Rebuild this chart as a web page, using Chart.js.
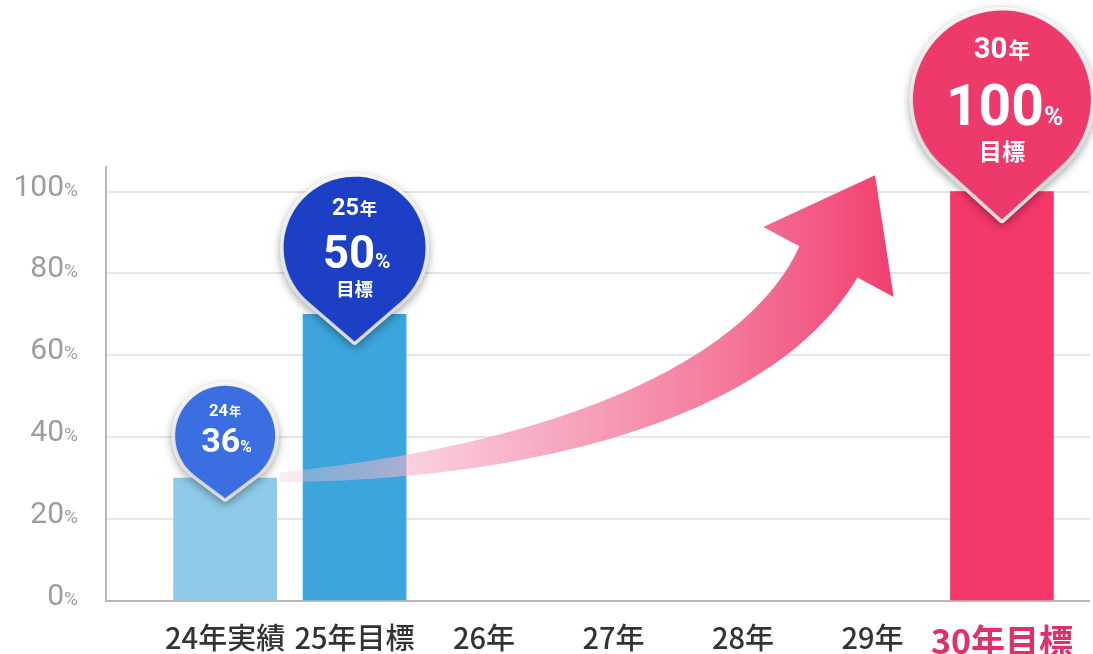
<!DOCTYPE html>
<html lang="ja">
<head>
<meta charset="utf-8">
<script src="https://cdn.jsdelivr.net/npm/chart.js@4.4.1/dist/chart.umd.min.js"></script>
<style>
  html, body { margin: 0; padding: 0; background: #fff; }
  #wrap { width: 1093px; height: 654px; position: relative; }
</style>
</head>
<body>
<div id="wrap"><canvas id="chart"></canvas></div>
<script>
// data
const categories = ['24年実績', '25年目標', '26年', '27年', '28年', '29年', '30年目標'];
const barValues = [30, 70, null, null, null, null, 100];
const yTicks = [0, 20, 40, 60, 80, 100];
const pinYears = ['24', '25', null, null, null, null, '30'];
const pinPercents = ['36', '50', null, null, null, null, '100'];
const pinNotes = ['', '目標', null, null, null, null, '目標'];

// styles
const barColors = ['#8fcbe9', '#3ca5dc', null, null, null, null, '#f5386a'];
const pinColors = ['#3b6ee0', '#1d3fc6', null, null, null, null, '#ee3a6b'];
const pinShapes = [
    { r: 50, d: 1.25, tip: 20 },
    { r: 71, d: 1.32, tip: 27 },
    null, null, null, null,
    { r: 89, d: 1.35, tip: 28 }
];
const JP = '"Noto Sans CJK JP", "Noto Sans", sans-serif';
const NUM = 'Roboto, "Noto Sans", sans-serif';

// y labels: big number + small %
const yLabelPlugin = {
    id: 'yLabels',
    afterDraw(chart) {
        const { ctx, scales: { y } } = chart;
        ctx.save();
        ctx.fillStyle = '#9d9d9d';
        ctx.textAlign = 'right';
        ctx.textBaseline = 'alphabetic';
        yTicks.forEach(v => {
            const py = y.getPixelForValue(v) + 4;
            ctx.font = `400 19px ${NUM}`;
            ctx.fillText('%', 78, py);
            const pw = ctx.measureText('%').width;
            ctx.font = `400 30px ${NUM}`;
            ctx.fillText(String(v), 78 - pw, py);
        });
        ctx.restore();
    }
};

function drawRun(ctx, pieces, cx, base) {
    let total = 0;
    pieces.forEach(p => { ctx.font = p.font; p.w = ctx.measureText(p.text).width + (p.gap || 0); total += p.w; });
    let x = cx - total / 2;
    pieces.forEach(p => { ctx.font = p.font; ctx.fillText(p.text, x + (p.gap || 0), base); x += p.w; });
}

// curved arrow, anchored in scale units
const arrowSpec = {
    p0: [0.42, 30.2], p1: [2.58, 34], p2: [4.15, 52.8], p3: [4.66, 82.8], tip: [5.02, 104],
    wing: 74, w0: 9, w1: 66
};

function drawArrow(chart) {
    const { ctx, scales: { x, y } } = chart;
    const P = k => ({ x: x.getPixelForValue(arrowSpec[k][0]), y: y.getPixelForValue(arrowSpec[k][1]) });
    const p0 = P('p0'), p1 = P('p1'), p2 = P('p2'), p3 = P('p3'), tip = P('tip');
    const N = 80, upper = [], lower = [];
    for (let i = 0; i <= N; i++) {
        const t = i / N, u = 1 - t;
        const bx = u*u*u*p0.x + 3*u*u*t*p1.x + 3*u*t*t*p2.x + t*t*t*p3.x;
        const by = u*u*u*p0.y + 3*u*u*t*p1.y + 3*u*t*t*p2.y + t*t*t*p3.y;
        let dx = 3*u*u*(p1.x-p0.x) + 6*u*t*(p2.x-p1.x) + 3*t*t*(p3.x-p2.x);
        let dy = 3*u*u*(p1.y-p0.y) + 6*u*t*(p2.y-p1.y) + 3*t*t*(p3.y-p2.y);
        const len = Math.hypot(dx, dy); dx /= len; dy /= len;
        const w = (arrowSpec.w0 + (arrowSpec.w1 - arrowSpec.w0) * Math.pow(t, 0.85)) / 2;
        upper.push([bx + dy * w, by - dx * w]);
        lower.push([bx - dy * w, by + dx * w]);
    }
    let hx = tip.x - p3.x, hy = tip.y - p3.y;
    const hl = Math.hypot(hx, hy); hx /= hl; hy /= hl;
    const nx = -hy, ny = hx;
    const W = arrowSpec.wing;
    ctx.save();
    const g = ctx.createLinearGradient(p0.x, 0, tip.x + 20, 0);
    g.addColorStop(0, 'rgba(248,192,210,0.30)');
    g.addColorStop(0.15, 'rgba(247,182,203,0.50)');
    g.addColorStop(0.4, 'rgba(247,172,195,0.95)');
    g.addColorStop(0.7, '#f47e9e');
    g.addColorStop(1, '#f03f6e');
    ctx.fillStyle = g;
    ctx.beginPath();
    ctx.moveTo(upper[0][0], upper[0][1]);
    upper.forEach(p => ctx.lineTo(p[0], p[1]));
    ctx.lineTo(p3.x - nx * W, p3.y - ny * W);
    ctx.lineTo(tip.x, tip.y);
    ctx.lineTo(p3.x + nx * W, p3.y + ny * W);
    for (let i = lower.length - 1; i >= 0; i--) ctx.lineTo(lower[i][0], lower[i][1]);
    ctx.closePath();
    ctx.fill();
    ctx.restore();
}

function drawPin(ctx, cx, tipY, s, color, year, pct, note) {
    const r = s.r, cy = tipY - s.d * r;
    const th = Math.acos(1 / s.d);
    const path = () => {
        ctx.beginPath();
        ctx.moveTo(cx, tipY);
        ctx.arc(cx, cy, r, Math.PI / 2 - th, Math.PI / 2 + th, true);
        ctx.closePath();
    };
    ctx.save();
    ctx.shadowColor = 'rgba(0,0,0,0.28)';
    ctx.shadowBlur = 10;
    ctx.shadowOffsetY = 3;
    path();
    ctx.lineJoin = 'round';
    ctx.lineWidth = 7;
    ctx.strokeStyle = '#fff';
    ctx.stroke();
    ctx.fillStyle = '#fff';
    ctx.fill();
    ctx.restore();

    ctx.save();
    path();
    ctx.fillStyle = color;
    ctx.fill();
    ctx.fillStyle = '#fff';
    ctx.textAlign = 'left';
    ctx.textBaseline = 'alphabetic';
    const hasNote = !!note;
    const l1 = hasNote ? -0.58 : -0.51, l2 = hasNote ? 0.06 : 0.09;
    const s1 = 0.33 * r, s2 = (hasNote ? 0.64 : 0.68) * r, s3 = 0.26 * r;
    drawRun(ctx, [
        { text: year, font: `700 ${s1}px ${NUM}` },
        { text: '年', font: `700 ${0.74 * s1}px ${JP}`, gap: 1 }
    ], cx, cy + l1 * r + 0.36 * s1);
    drawRun(ctx, [
        { text: pct, font: `700 ${s2}px ${NUM}` },
        { text: '%', font: `700 ${0.46 * s2}px ${NUM}`, gap: 0 }
    ], cx + 0.03 * r, cy + l2 * r + 0.36 * s2);
    if (hasNote) {
        drawRun(ctx, [{ text: note, font: `700 ${s3}px ${JP}` }], cx, cy + 0.58 * r + 0.38 * s3);
    }
    ctx.restore();
}

const overlayPlugin = {
    id: 'overlay',
    afterDatasetsDraw(chart) {
        const { ctx, scales: { x, y } } = chart;
        drawArrow(chart);
        barValues.forEach((v, i) => {
            if (!pinShapes[i] || v == null) return;
            const cx = x.getPixelForValue(i);
            const tipY = y.getPixelForValue(v) + pinShapes[i].tip;
            drawPin(ctx, cx, tipY, pinShapes[i], pinColors[i], pinYears[i], pinPercents[i], pinNotes[i]);
        });
    }
};

new Chart(document.getElementById('chart'), {
    type: 'bar',
    data: {
        datasets: [{
            data: barValues.map((v, i) => ({ x: i, y: v })),
            backgroundColor: barColors,
            borderWidth: 0,
            barThickness: 103
        }]
    },
    options: {
        responsive: true,
        maintainAspectRatio: false,
        animation: false,
        devicePixelRatio: 1,
        layout: { padding: { top: 167, right: 0, bottom: 0, left: 0 } },
        plugins: { legend: { display: false }, tooltip: { enabled: false } },
        scales: {
            x: {
                type: 'linear',
                offset: false,
                min: -0.92,
                max: 6.68,
                afterBuildTicks: s => { s.ticks = categories.map((c, i) => ({ value: i })); },
                afterFit: s => { s.height = 53; },
                grid: { display: false, drawTicks: false },
                border: { display: true, color: '#b8b8b8', width: 2 },
                ticks: {
                    autoSkip: false,
                    maxRotation: 0,
                    padding: 20,
                    callback: v => categories[v],
                    color: c => c.index === 6 ? '#e0306a' : '#333',
                    font: c => c.index === 6
                        ? { family: JP, size: 34, weight: 'bold' }
                        : { family: JP, size: 29, weight: 500 }
                }
            },
            y: {
                min: 0,
                max: 106,
                afterBuildTicks: s => { s.ticks = yTicks.map(v => ({ value: v })); },
                afterFit: s => { s.width = 106; },
                grid: { color: '#e6e6e6', lineWidth: 2, drawTicks: false },
                border: { display: true, color: '#b8b8b8', width: 2 },
                ticks: { display: false }
            }
        }
    },
    plugins: [yLabelPlugin, overlayPlugin]
});
</script>
</body>
</html>
